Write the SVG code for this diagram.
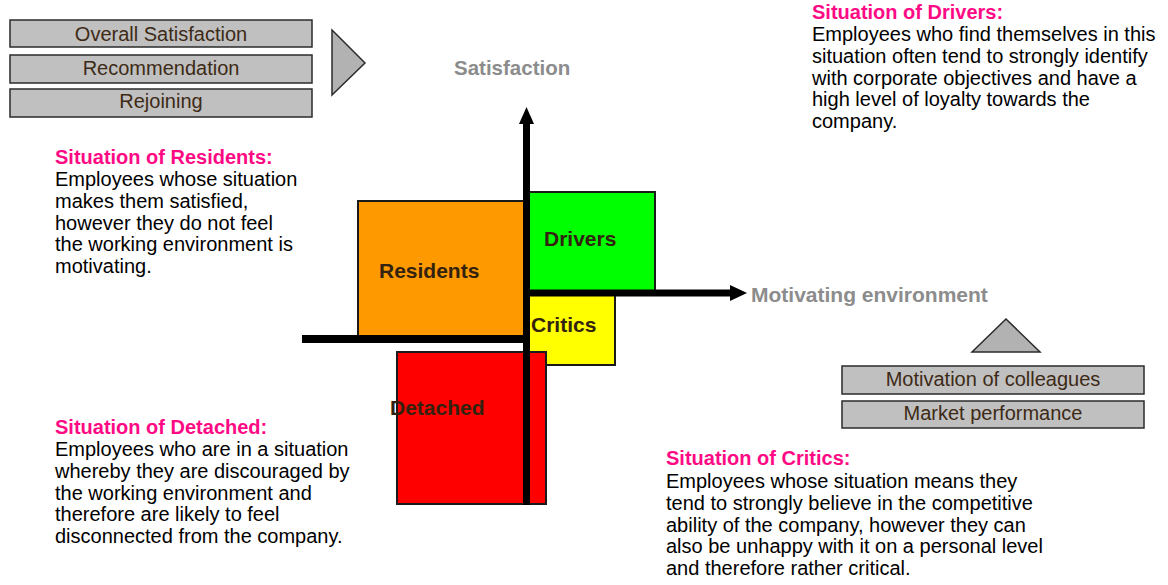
<svg xmlns="http://www.w3.org/2000/svg" width="1168" height="585" viewBox="0 0 1168 585">
  <defs>
    <style>
      .bar { fill: #c0c0c0; stroke: #2b2b2b; stroke-width: 1.5; }
      .tri { fill: #b2b2b2; stroke: #2b2b2b; stroke-width: 1.5; }
      .bartxt { font-family: "Liberation Sans", Arial, sans-serif; font-size: 20px; fill: #3d2a16; text-anchor: middle; }
      .axislbl { font-family: "Liberation Sans", Arial, sans-serif; font-size: 20.5px; font-weight: bold; fill: #8c8c8c; }
      .quad { stroke: #1a1a1a; stroke-width: 2; }
      .quadtxt { font-family: "Liberation Sans", Arial, sans-serif; font-size: 21px; font-weight: bold; fill: #33220f; }
      .head { font-family: "Liberation Sans", Arial, sans-serif; font-size: 20px; font-weight: bold; fill: #ff0a85; }
      .body { font-family: "Liberation Sans", Arial, sans-serif; font-size: 20px; fill: #000; }
      .axis { stroke: #000; fill: none; }
    </style>
  </defs>

  <!-- Satisfaction drivers -->
  <g id="sat-factors">
    <rect class="bar" x="10" y="20" width="302" height="27"/>
    <text class="bartxt" x="161" y="41">Overall Satisfaction</text>
    <rect class="bar" x="10" y="55" width="302" height="28"/>
    <text class="bartxt" x="161" y="75">Recommendation</text>
    <rect class="bar" x="10" y="89" width="302" height="28"/>
    <text class="bartxt" x="161" y="108">Rejoining</text>
    <polygon class="tri" points="332,30 365,63 332,95"/>
  </g>

  <text id="label-satisfaction" class="axislbl" x="454" y="75">Satisfaction</text>

  <!-- Quadrants -->
  <g id="node-residents">
    <rect class="quad" x="358" y="201" width="167" height="136" fill="#ff9900"/>
    <text class="quadtxt" x="379" y="278">Residents</text>
  </g>
  <g id="node-drivers">
    <rect class="quad" x="528" y="192" width="127" height="100" fill="#00ff00"/>
    <text class="quadtxt" x="544" y="246">Drivers</text>
  </g>
  <g id="node-critics">
    <rect class="quad" x="528" y="295" width="87" height="70" fill="#ffff00"/>
    <text class="quadtxt" x="531" y="332">Critics</text>
  </g>
  <g id="node-detached">
    <rect class="quad" x="397" y="352" width="149" height="152" fill="#ff0000"/>
  </g>

  <!-- Axes -->
  <g id="connectors">
    <line class="axis" x1="526.5" y1="505" x2="526.5" y2="120" stroke-width="7"/>
    <polygon points="526.5,107 534,124 519,124" fill="#000"/>
    <line class="axis" x1="523" y1="293" x2="733" y2="293" stroke-width="7"/>
    <polygon points="747,293 730,285 730,301" fill="#000"/>
    <line class="axis" x1="302" y1="339" x2="527" y2="339" stroke-width="8"/>
  </g>

  <text class="quadtxt" x="390" y="415">Detached</text>

  <text id="label-motivating" class="axislbl" x="751" y="302" style="font-size:21px">Motivating environment</text>

  <!-- Motivation factors -->
  <g id="mot-factors">
    <polygon class="tri" points="1006,319 1040,352 972,352"/>
    <rect class="bar" x="842" y="366" width="302" height="28"/>
    <text class="bartxt" x="993" y="386">Motivation of colleagues</text>
    <rect class="bar" x="842" y="401" width="302" height="27"/>
    <text class="bartxt" x="993" y="420">Market performance</text>
  </g>

  <!-- Descriptions -->
  <g id="desc-drivers">
    <text class="head" x="812" y="19">Situation of Drivers:</text>
    <text class="body" x="812" y="41">Employees who find themselves in this</text>
    <text class="body" x="812" y="63">situation often tend to strongly identify</text>
    <text class="body" x="812" y="84.5">with corporate objectives and have a</text>
    <text class="body" x="812" y="106">high level of loyalty towards the</text>
    <text class="body" x="812" y="128">company.</text>
  </g>

  <g id="desc-residents">
    <text class="head" x="55" y="164">Situation of Residents:</text>
    <text class="body" x="55" y="186">Employees whose situation</text>
    <text class="body" x="55" y="208">makes them satisfied,</text>
    <text class="body" x="55" y="229.5">however they do not feel</text>
    <text class="body" x="55" y="251">the working environment is</text>
    <text class="body" x="55" y="273">motivating.</text>
  </g>

  <g id="desc-detached">
    <text class="head" x="55" y="434">Situation of Detached:</text>
    <text class="body" x="55" y="456">Employees who are in a situation</text>
    <text class="body" x="55" y="478">whereby they are discouraged by</text>
    <text class="body" x="55" y="499.5">the working environment and</text>
    <text class="body" x="55" y="521">therefore are likely to feel</text>
    <text class="body" x="55" y="543">disconnected from the company.</text>
  </g>

  <g id="desc-critics">
    <text class="head" x="666" y="465">Situation of Critics:</text>
    <text class="body" x="666" y="488">Employees whose situation means they</text>
    <text class="body" x="666" y="510">tend to strongly believe in the competitive</text>
    <text class="body" x="666" y="531.5">ability of the company, however they can</text>
    <text class="body" x="666" y="553">also be unhappy with it on a personal level</text>
    <text class="body" x="666" y="575">and therefore rather critical.</text>
  </g>
</svg>
